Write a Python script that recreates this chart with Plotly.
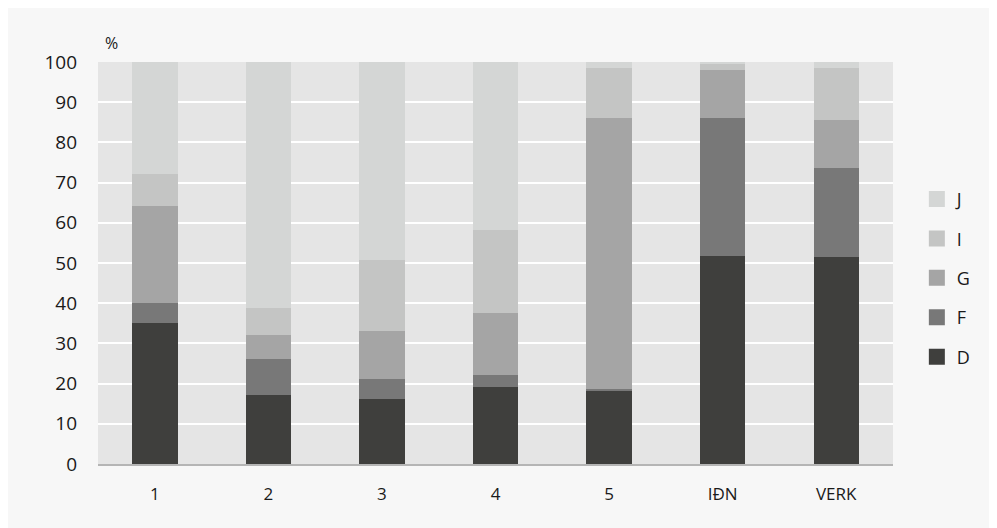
import plotly.graph_objects as go

categories = ["1", "2", "3", "4", "5", "IÐN", "VERK"]

d_vals = [35.1, 17.2, 16.2, 19.2, 18.2, 51.7, 51.5]
f_vals = [4.9, 8.9, 4.9, 2.9, 0.5, 34.4, 22.1]
g_vals = [24.2, 6.0, 12.0, 15.5, 67.4, 11.9, 12.0]
i_vals = [7.9, 6.7, 17.6, 20.6, 12.4, 1.5, 12.9]
j_vals = [27.9, 61.2, 49.3, 41.8, 1.5, 0.5, 1.5]

series = [
    ("D", d_vals, "#3f3f3d"),
    ("F", f_vals, "#787878"),
    ("G", g_vals, "#a5a5a5"),
    ("I", i_vals, "#c4c5c4"),
    ("J", j_vals, "#d4d6d5"),
]

fig = go.Figure()
for name, vals, color in series:
    fig.add_trace(go.Bar(
        x=categories, y=vals, name=name, showlegend=False,
        marker=dict(color=color, line=dict(width=0)),
    ))

# legend entries with larger square swatches
for name, vals, color in reversed(series):
    fig.add_trace(go.Scatter(
        x=[None], y=[None], mode="markers", name=name, legendgroup=name,
        marker=dict(symbol="square", size=16, color=color),
    ))

fig.update_layout(
    width=997, height=528,
    barmode="stack", bargap=0.6,
    paper_bgcolor="#f7f7f7", plot_bgcolor="#e5e5e5",
    margin=dict(l=90, r=112, t=54, b=72),
    font=dict(family="Open Sans", size=18, color="#1a1a1a"),
    legend=dict(
        traceorder="grouped", x=1.03, xanchor="left", y=0.463, yanchor="middle",
        tracegroupgap=13, font=dict(size=18), bgcolor="rgba(0,0,0,0)",
        itemwidth=30,
    ),
    annotations=[dict(
        text="%", xref="paper", yref="paper", x=0.006, y=1.047,
        xanchor="left", yanchor="middle", showarrow=False, font=dict(size=16),
    )],
)
fig.update_xaxes(
    showline=True, linecolor="#b5b5b5", linewidth=2,
    ticks="", tickfont=dict(size=17), showgrid=False, ticklabelstandoff=14,
)
fig.update_yaxes(
    range=[0, 100], dtick=10, gridcolor="white", gridwidth=2,
    ticks="", tickfont=dict(size=19), zeroline=False, ticklabelstandoff=20,
)

fig.write_html("out.html")
